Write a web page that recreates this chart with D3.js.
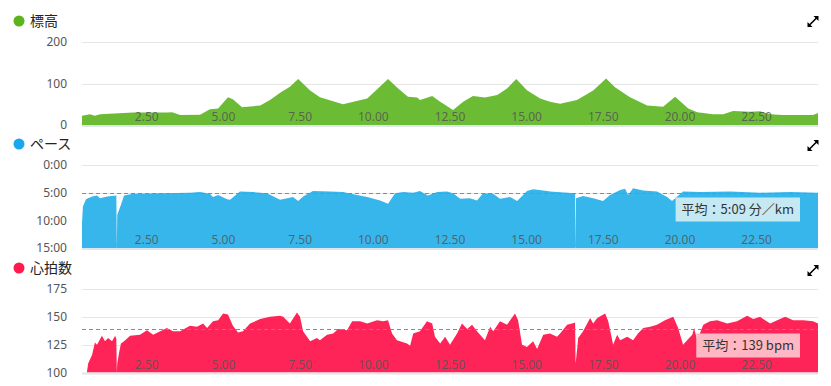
<!DOCTYPE html>
<html>
<head>
<meta charset="utf-8">
<script src="https://cdn.jsdelivr.net/npm/d3@7"></script>
<style>
body { margin: 0; background: #fff; }
text { font-family: "Noto Sans", "Noto Sans CJK JP", sans-serif; }
</style>
</head>
<body>
<svg id="chart" width="831" height="386"></svg>
<script>
// distance (km) and values
var elevKm = [0,0.26,0.42,0.59,1.66,2.77,2.94,3.20,3.85,4.17,
  4.44,4.76,4.92,5.22,5.81,6.13,6.46,6.78,7.05,7.44,
  7.76,8.51,9.30,9.65,9.98,10.31,10.63,10.93,11.02,11.42,
  11.68,12.10,12.43,12.75,13.14,13.54,13.86,14.16,14.51,14.94,
  15.26,15.59,16.14,16.67,17.09,17.38,17.87,18.43,18.95,19.34,
  19.77,20.06,20.58,20.91,21.23,21.79,22.11,22.44,22.86,23.84,
  24.00];
var elevM = [22,26,22,26,30,30,31,24,25,38,
  40,67,62,43,47,60,78,92,111,83,
  67,50,64,88,111,88,68,66,60,70,
  56,36,56,70,66,72,88,111,84,64,
  56,51,60,83,112,91,67,47,44,68,
  40,31,26,26,34,32,33,26,24,24,
  29];

var paceKm = [0,0.03,0.13,0.33,0.49,0.59,0.82,1.12,1.135,1.15,
  1.27,1.37,1.66,2.54,3.52,3.85,4.17,4.27,4.44,4.73,
  4.83,5.15,5.58,6.03,6.36,6.46,6.69,6.88,7.05,7.21,
  7.53,8.09,8.51,8.97,9.30,9.72,9.98,10.21,10.47,10.80,
  11.02,11.28,11.58,11.90,12.10,12.33,12.65,12.88,13.08,13.41,
  13.63,13.96,14.19,14.51,14.71,15.17,15.26,16.08,16.095,16.11,
  16.34,16.67,16.99,17.22,17.55,17.71,17.81,17.97,18.30,18.75,
  19.08,19.24,19.60,20.16,21.14,22.11,23.09,24.00];
var paceMin = [10.5,7.5,6.2,5.7,5.5,6.0,5.7,5.5,15,9.0,
  7.2,5.5,5.2,5.1,5.0,4.9,5.2,5.8,5.4,6.2,
  6.3,4.8,4.9,5.1,6.0,6.3,6.0,5.8,6.5,5.7,
  4.7,4.8,4.9,5.4,5.8,6.4,7.0,5.1,4.9,5.0,
  4.7,5.5,4.9,4.8,5.1,6.1,6.0,6.4,5.1,5.2,
  6.1,5.8,6.5,4.7,4.4,4.7,4.8,5.1,15,6.0,
  5.6,6.0,6.5,5.4,4.5,4.3,5.4,4.2,4.6,4.8,
  5.8,6.5,4.8,4.9,4.8,5.0,4.9,5.0];

var hrKm = [0.16,0.20,0.33,0.42,0.49,0.65,0.75,0.85,0.98,1.08,
  1.12,1.135,1.15,1.21,1.27,1.37,1.57,1.89,2.12,2.32,
  2.77,2.97,3.20,3.52,3.75,3.95,4.08,4.27,4.44,4.60,
  4.76,4.92,5.09,5.25,5.48,5.81,6.13,6.46,6.56,6.78,
  7.01,7.11,7.21,7.44,7.66,7.76,7.99,8.19,8.35,8.64,
  8.81,9.07,9.30,9.62,9.82,9.98,10.11,10.27,10.60,10.70,
  10.80,11.02,11.25,11.42,11.51,11.68,11.84,12.00,12.23,12.39,
  12.56,12.72,12.88,13.14,13.31,13.41,13.63,13.86,14.12,14.22,
  14.35,14.51,14.71,14.84,15.04,15.26,15.49,15.59,15.82,15.98,
  16.08,16.095,16.15,16.18,16.34,16.57,16.67,16.80,17.06,17.16,
  17.32,17.45,17.55,17.78,17.97,18.13,18.30,18.53,18.75,19.01,
  19.28,19.44,19.60,19.77,19.90,19.96,20.06,20.26,20.48,20.71,
  21.04,21.36,21.69,21.89,22.11,22.44,22.67,22.93,23.19,23.52,
  23.84,24.00];
var hrBpm = [100,108,116,127,125,133,128,131,128,133,
  130,100,108,118,126,128,133,134,138,134,
  140,137,137,142,141,144,140,146,147,153,
  152,142,136,137,144,148,150,151,150,144,
  154,150,137,128,131,129,134,135,139,138,
  146,146,144,147,146,147,135,129,126,124,
  135,137,146,144,132,126,132,125,135,144,
  139,143,137,129,141,137,146,143,153,147,
  125,123,128,121,134,135,132,135,143,144,
  145,108,122,131,137,149,144,149,153,146,
  125,134,129,132,129,135,140,141,143,147,
  150,140,125,130,134,140,129,143,146,147,
  144,146,151,148,150,144,147,150,147,147,
  146,144];

var xTicks = [2.5, 5, 7.5, 10, 12.5, 15, 17.5, 20, 22.5];
var elevTicks = [0, 100, 200];
var paceTicks = [0, 5, 10, 15];
var hrTicks = [100, 125, 150, 175];
var paceAvg = 5.15, hrAvg = 139;

var svg = d3.select("#chart");

var x = d3.scaleLinear().domain([0, 24]).range([82, 818]);

var panels = [
  {title: "標高", dot: "#5cb31c", fill: "#6bbc34", top: 42, bottom: 125,
   domain: [0, 200], ticks: elevTicks, fmt: d3.format("d"), km: elevKm, vals: elevM, invert: false, icon: 21.5},
  {title: "ペース", dot: "#1aa8ec", fill: "#37b6ec", top: 165, bottom: 248,
   domain: [0, 15], ticks: paceTicks, fmt: function(d) { return d + ":00"; }, km: paceKm, vals: paceMin, invert: true,
   avg: paceAvg, avgText: "平均：5:09 分／km", boxFill: "#c4e9f3", icon: 145.5},
  {title: "心拍数", dot: "#ff1a4d", fill: "#ff2457", top: 289, bottom: 372.5,
   domain: [100, 175], ticks: hrTicks, fmt: d3.format("d"), km: hrKm, vals: hrBpm, invert: false,
   avg: hrAvg, avgText: "平均：139 bpm", boxFill: "#ffb8c3", icon: 270.5}
];

panels.forEach(function(p) {
  var y = d3.scaleLinear().domain(p.domain)
    .range(p.invert ? [p.top, p.bottom] : [p.bottom, p.top]);
  var g = svg.append("g");

  // title + dot
  g.append("circle").attr("cx", 19).attr("cy", p.top - 21).attr("r", 5.5).attr("fill", p.dot);
  g.append("text").attr("x", 30).attr("y", p.top - 21).attr("dy", "0.36em")
    .attr("font-size", "14px").attr("fill", "#222")
    .style("font-family", "'Noto Sans CJK JP', sans-serif")
    .text(p.title);

  // grid lines
  var base = p.invert ? p.domain[1] : p.domain[0];
  g.selectAll(".grid").data(p.ticks.filter(function(t) { return t !== base; }))
    .enter().append("line")
    .attr("x1", x(0)).attr("x2", x(24))
    .attr("y1", function(d) { return Math.round(y(d)) + 0.5; })
    .attr("y2", function(d) { return Math.round(y(d)) + 0.5; })
    .attr("stroke", "#e6e6e6");

  // y labels
  g.selectAll(".ylab").data(p.ticks).enter().append("text")
    .attr("x", 67).attr("y", function(d) { return y(d); }).attr("dy", "0.36em")
    .attr("text-anchor", "end").attr("font-size", "12px").attr("fill", "#555")
    .text(p.fmt);

  // area
  var pts = p.km.map(function(k, i) { return [k, p.vals[i]]; });
  var area = d3.area()
    .x(function(d) { return x(d[0]); })
    .y0(p.bottom)
    .y1(function(d) { return y(d[1]); });
  g.append("path").datum(pts).attr("d", area).attr("fill", p.fill);

  // baseline
  g.append("rect").attr("x", x(0)).attr("y", p.bottom).attr("width", x(24) - x(0)).attr("height", 2)
    .attr("fill", "#dfe5ec");

  // x tick labels (inside plot, right aligned to tick)
  g.selectAll(".xlab").data(xTicks).enter().append("text")
    .attr("x", function(d) { return x(d); }).attr("y", p.bottom - 4)
    .attr("text-anchor", "end").attr("font-size", "12px").attr("fill", "#555").attr("fill-opacity", 0.85)
    .text(d3.format(".2f"));

  // average line + box
  if (p.avg !== undefined) {
    var ay = Math.round(y(p.avg)) + 0.5;
    g.append("line").attr("x1", x(0)).attr("x2", x(24)).attr("y1", ay).attr("y2", ay)
      .attr("stroke", "#8a8a8a").attr("stroke-dasharray", "4,3");
    var box = g.append("rect").attr("fill", p.boxFill);
    var t = g.append("text").attr("font-size", "13px").attr("fill", "#333")
      .style("font-family", "'Noto Sans CJK JP', sans-serif")
      .attr("text-anchor", "end").attr("x", 794).attr("y", ay + 16).attr("dy", "0.36em")
      .text(p.avgText);
    var w = t.node().getComputedTextLength();
    box.attr("x", 794 - w - 6).attr("y", ay + 4).attr("width", w + 12).attr("height", 24);
  }

  // expand icon
  var ic = g.append("g").attr("transform", "translate(813," + p.icon + ")");
  ic.append("line").attr("x1", -4).attr("y1", 4).attr("x2", 4).attr("y2", -4)
    .attr("stroke", "#000").attr("stroke-width", 1.6);
  ic.append("path").attr("d", "M0.5,-5.5L5.5,-5.5L5.5,-0.5Z").attr("fill", "#000");
  ic.append("path").attr("d", "M-5.5,0.5L-5.5,5.5L-0.5,5.5Z").attr("fill", "#000");
});
</script>
</body>
</html>
